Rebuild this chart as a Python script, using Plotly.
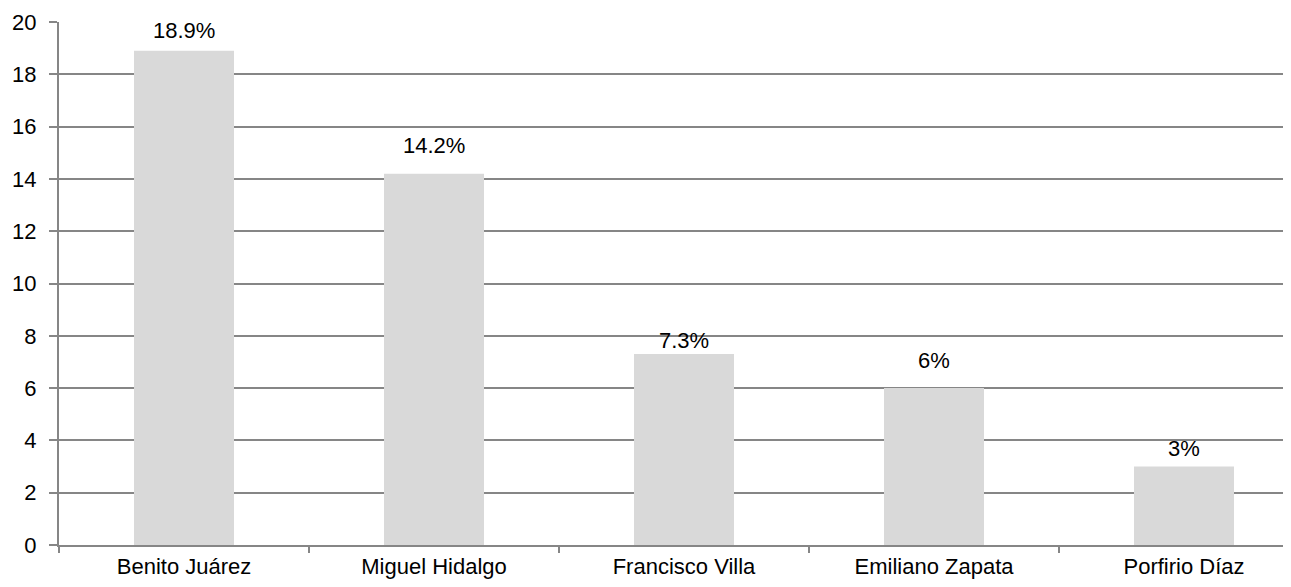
import plotly.graph_objects as go

categories = ["Benito Juárez", "Miguel Hidalgo", "Francisco Villa", "Emiliano Zapata", "Porfirio Díaz"]
values = [18.9, 14.2, 7.3, 6, 3]
labels = ["18.9%", "14.2%", "7.3%", "6%", "3%"]

label_shift = [20, 28, 14, 28, 18]

FONT = "Liberation Sans, Arial"

fig = go.Figure()
fig.add_trace(go.Bar(
    x=categories, y=values,
    marker=dict(color="#d9d9d9", line=dict(width=0)),
    width=0.4,
    hoverinfo="skip",
))

for c, v, t, s in zip(categories, values, labels, label_shift):
    fig.add_annotation(x=c, y=v, text=t, showarrow=False, yshift=s,
                       font=dict(family=FONT, size=22, color="#000"))

# page body has an 8px margin, so the figure is offset by 8px
fig.update_layout(
    width=1283, height=571,
    margin=dict(l=51, r=0, t=14, b=34),
    paper_bgcolor="white", plot_bgcolor="white",
    showlegend=False,
    font=dict(family=FONT, size=22, color="#000"),
)
fig.update_xaxes(
    range=[-0.5, 4.428], automargin=False,
    showline=True, linecolor="#868686", linewidth=2,
    ticks="outside", tickson="boundaries", ticklen=6, tickcolor="#868686", tickwidth=2,
    showgrid=False,
    tickfont=dict(size=22),
    ticklabelstandoff=1,
)
fig.update_yaxes(
    range=[0, 20], dtick=2, automargin=False,
    showline=True, linecolor="#868686", linewidth=2,
    ticks="outside", ticklen=8, tickcolor="#868686", tickwidth=2,
    showgrid=True, gridcolor="#868686", gridwidth=2,
    zeroline=False,
    tickfont=dict(size=22),
    ticklabelstandoff=8,
)

fig.write_html("out.html")
